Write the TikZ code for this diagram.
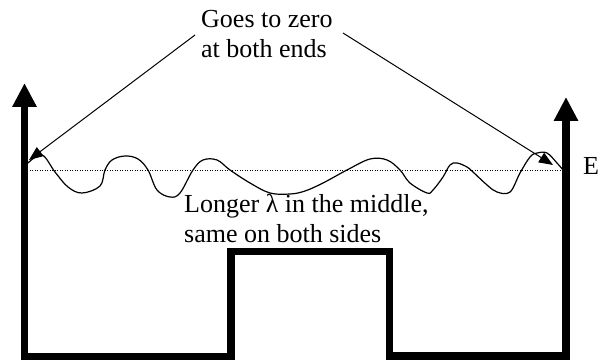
\documentclass[tikz,border=0pt]{standalone}
\usepackage{fontspec}
\setmainfont{Liberation Serif}
\newfontfamily\tnr{Liberation Serif}
\usetikzlibrary{arrows.meta}
\begin{document}
\begin{tikzpicture}[x=1pt,y=-1pt,
  wall/.style={line width=7.5pt,line join=miter,{Triangle[width=23pt,length=24pt]}-{Triangle[width=23pt,length=24pt]}},
  lbl/.style={inner sep=0pt,anchor=base west,font=\tnr\fontsize{26}{30}\selectfont},
  pointer/.style={line width=1pt,-{Triangle[width=11pt,length=14pt]}},
  level/.style={line width=0.9pt,dash pattern=on 0.9pt off 1.6pt},
  wave/.style={line width=1.2pt}]
\useasboundingbox (0,0) rectangle (600,363);
% potential well
\coordinate (lt) at (24.5,83);
\coordinate (rt) at (566,97);
\draw[wall] (lt) -- (24.5,356.5) -- (231,356.5) -- (231,251.5) -- (389.5,251.5) -- (389.5,356) -- (566,356) -- (rt);
% energy level
\coordinate (el) at (27,170);
\coordinate (er) at (563,170);
\draw[level] (el) -- (er);
\node[lbl] (E) at (583,175) {E};
% wavefunction
\draw[wave] plot[smooth,tension=0.6] coordinates {(28,163) (42,155) (55,172) (68,187) (82,193) (100,186) (105,170) (112,160) (125,156) (138,159) (148,170) (157,190) (170,197) (180,193) (193,170) (203,160) (217,160) (230,170) (250,183) (270,193) (290,194) (305,191) (323,183) (347,170) (370,159) (387,160) (400,170) (410,183) (427,193) (433,190) (443,177) (450,165) (457,163) (467,167) (473,172) (487,185) (497,192) (510,192) (520,173) (530,157) (537,153) (547,153) (557,163) (563,170)};
% labels
\node[lbl] (g1) at (201,28) {Goes to zero};
\node[lbl] (g2) at (201,58) {at both ends};
\node[lbl] (l1) at (184,213) {Longer λ in the middle,};
\node[lbl] (l2) at (184,243) {same on both sides};
% pointers
\coordinate (ps) at (195,35);
\coordinate (pl) at (29,160);
\coordinate (qs) at (343,33);
\coordinate (qr) at (553,165);
\draw[pointer] (ps) -- (pl);
\draw[pointer] (qs) -- (qr);
\end{tikzpicture}
\end{document}
